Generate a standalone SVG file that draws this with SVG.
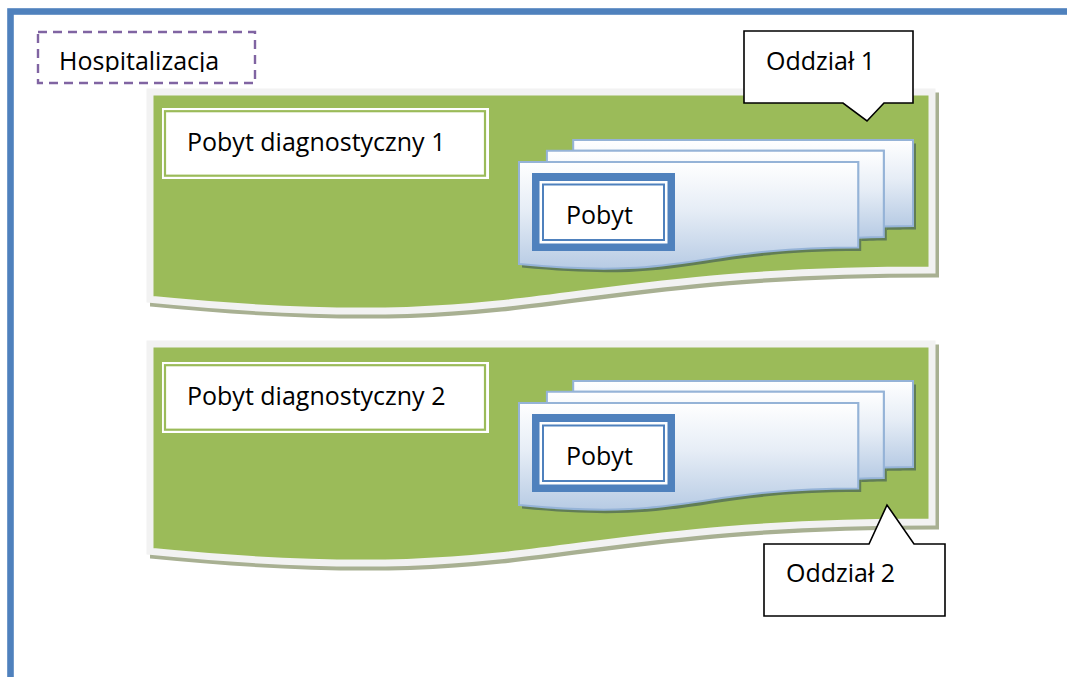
<svg xmlns="http://www.w3.org/2000/svg" width="1067" height="677" viewBox="0 0 1067 677">
  <style>
    .txt { font-family: "Open Sans", "Noto Sans", "Liberation Sans", sans-serif; font-size: 25px; fill: #000; }
    .panel { fill: #9BBB59; stroke: #F2F2F2; stroke-width: 7; stroke-linejoin: miter; }
    .panel-shadow { fill: #A8B092; stroke: #A8B092; stroke-width: 7; }
    .card { stroke: #95B3D7; stroke-width: 2; stroke-linejoin: miter; }
    .card-shadow { fill: #617D55; }
    .callout { fill: #FFFFFF; stroke: #000; stroke-width: 1.6; stroke-linejoin: miter; }
    .label-outer { fill: #FFFFFF; }
    .label-inner { fill: none; stroke: #9BBB59; stroke-width: 2.2; }
    .pobyt-frame { fill: #4F81BD; }
    .pobyt-fill { fill: #FFFFFF; }
    .pobyt-line { fill: none; stroke: #4F81BD; stroke-width: 2; }
  </style>
  <defs>
    <linearGradient id="cardGrad" x1="0" y1="0" x2="0" y2="1">
      <stop offset="0" stop-color="#FFFFFF"/>
      <stop offset="0.45" stop-color="#E6EDF6"/>
      <stop offset="1" stop-color="#B7CBE4"/>
    </linearGradient>
    <!-- flowchart "document" outline for a diagnostic stay panel -->
    <path id="panelShape" d="M150,92 H932 V270 C541,270 541,337.9 150,299.3 Z"/>
    <!-- stacked multi-document shape, local coordinates (394 x 129) -->
    <path id="docBack" d="M54.2,10.8 V0 H394 V86 C379.4,86 364.8,86.4 364.8,86.4 V10.8 Z"/>
    <path id="docMid" d="M27.9,21.9 V10.8 H364.8 V97.1 C352,97.1 339.2,97.7 339.2,97.7 V21.9 Z"/>
    <path id="docFront" d="M0,124.1 C169.6,140.6 169.6,107.6 339.2,107.6 V21.9 H0 Z"/>
    <g id="multiDoc">
      <g transform="translate(3,3.5)" class="card-shadow">
        <use href="#docBack"/>
        <use href="#docMid"/>
        <use href="#docFront"/>
      </g>
      <use href="#docBack" class="card" fill="url(#cardGrad)"/>
      <use href="#docMid" class="card" fill="url(#cardGrad)"/>
      <use href="#docFront" class="card" fill="url(#cardGrad)"/>
    </g>
    <clipPath id="titleClip">
      <rect x="40" y="34" width="213" height="38"/>
    </clipPath>
  </defs>

  <rect width="1067" height="677" fill="#FFFFFF"/>

  <!-- outer hospitalisation frame -->
  <g id="hospitalizacja">
    <rect x="10.5" y="11.5" width="1100" height="720" fill="none" stroke="#4F81BD" stroke-width="6.6"/>
    <rect x="38" y="32" width="217" height="51" fill="none" stroke="#8064A2" stroke-width="2.4" stroke-dasharray="9,6"/>
    <text class="txt" x="59" y="70" clip-path="url(#titleClip)">Hospitalizacja</text>
  </g>

  <!-- diagnostic stay 1 -->
  <g id="pobyt-diagnostyczny-1">
    <use href="#panelShape" class="panel-shadow" transform="translate(3.5,4)"/>
    <use href="#panelShape" class="panel"/>
    <g id="label-1">
      <rect class="label-outer" x="162" y="108" width="327" height="71"/>
      <rect class="label-inner" x="165" y="111.2" width="320" height="64.5"/>
      <text class="txt" x="187" y="151">Pobyt diagnostyczny 1</text>
    </g>
    <g id="pobyty-1" transform="translate(519,140)">
      <use href="#multiDoc"/>
    </g>
    <g id="pobyt-1">
      <rect class="pobyt-frame" x="532" y="173" width="143" height="78"/>
      <rect class="pobyt-fill" x="539.5" y="181" width="128" height="62.5"/>
      <rect class="pobyt-line" x="543" y="184.5" width="121" height="55.5"/>
      <text class="txt" x="566" y="224">Pobyt</text>
    </g>
  </g>

  <!-- diagnostic stay 2 -->
  <g id="pobyt-diagnostyczny-2">
    <use href="#panelShape" class="panel-shadow" transform="translate(3.5,256)"/>
    <use href="#panelShape" class="panel" transform="translate(0,252)"/>
    <g id="label-2">
      <rect class="label-outer" x="162" y="362" width="327" height="71"/>
      <rect class="label-inner" x="165" y="365.2" width="320" height="64.5"/>
      <text class="txt" x="187" y="405">Pobyt diagnostyczny 2</text>
    </g>
    <g id="pobyty-2" transform="translate(519,381)">
      <use href="#multiDoc"/>
    </g>
    <g id="pobyt-2">
      <rect class="pobyt-frame" x="532" y="414" width="143" height="78"/>
      <rect class="pobyt-fill" x="539.5" y="422" width="128" height="62.5"/>
      <rect class="pobyt-line" x="543" y="425.5" width="121" height="55.5"/>
      <text class="txt" x="566" y="465">Pobyt</text>
    </g>
  </g>

  <!-- ward callouts -->
  <g id="oddzial-1">
    <path class="callout" d="M744,31 H913 V103 H884 L867,121 L843,103 H744 Z"/>
    <text class="txt" x="766" y="70">Oddział 1</text>
  </g>
  <g id="oddzial-2">
    <path class="callout" d="M764,544 H869 L887,505 L914,544 H945 V616 H764 Z"/>
    <text class="txt" x="786" y="582">Oddział 2</text>
  </g>

  <g id="connectors"/>
</svg>
